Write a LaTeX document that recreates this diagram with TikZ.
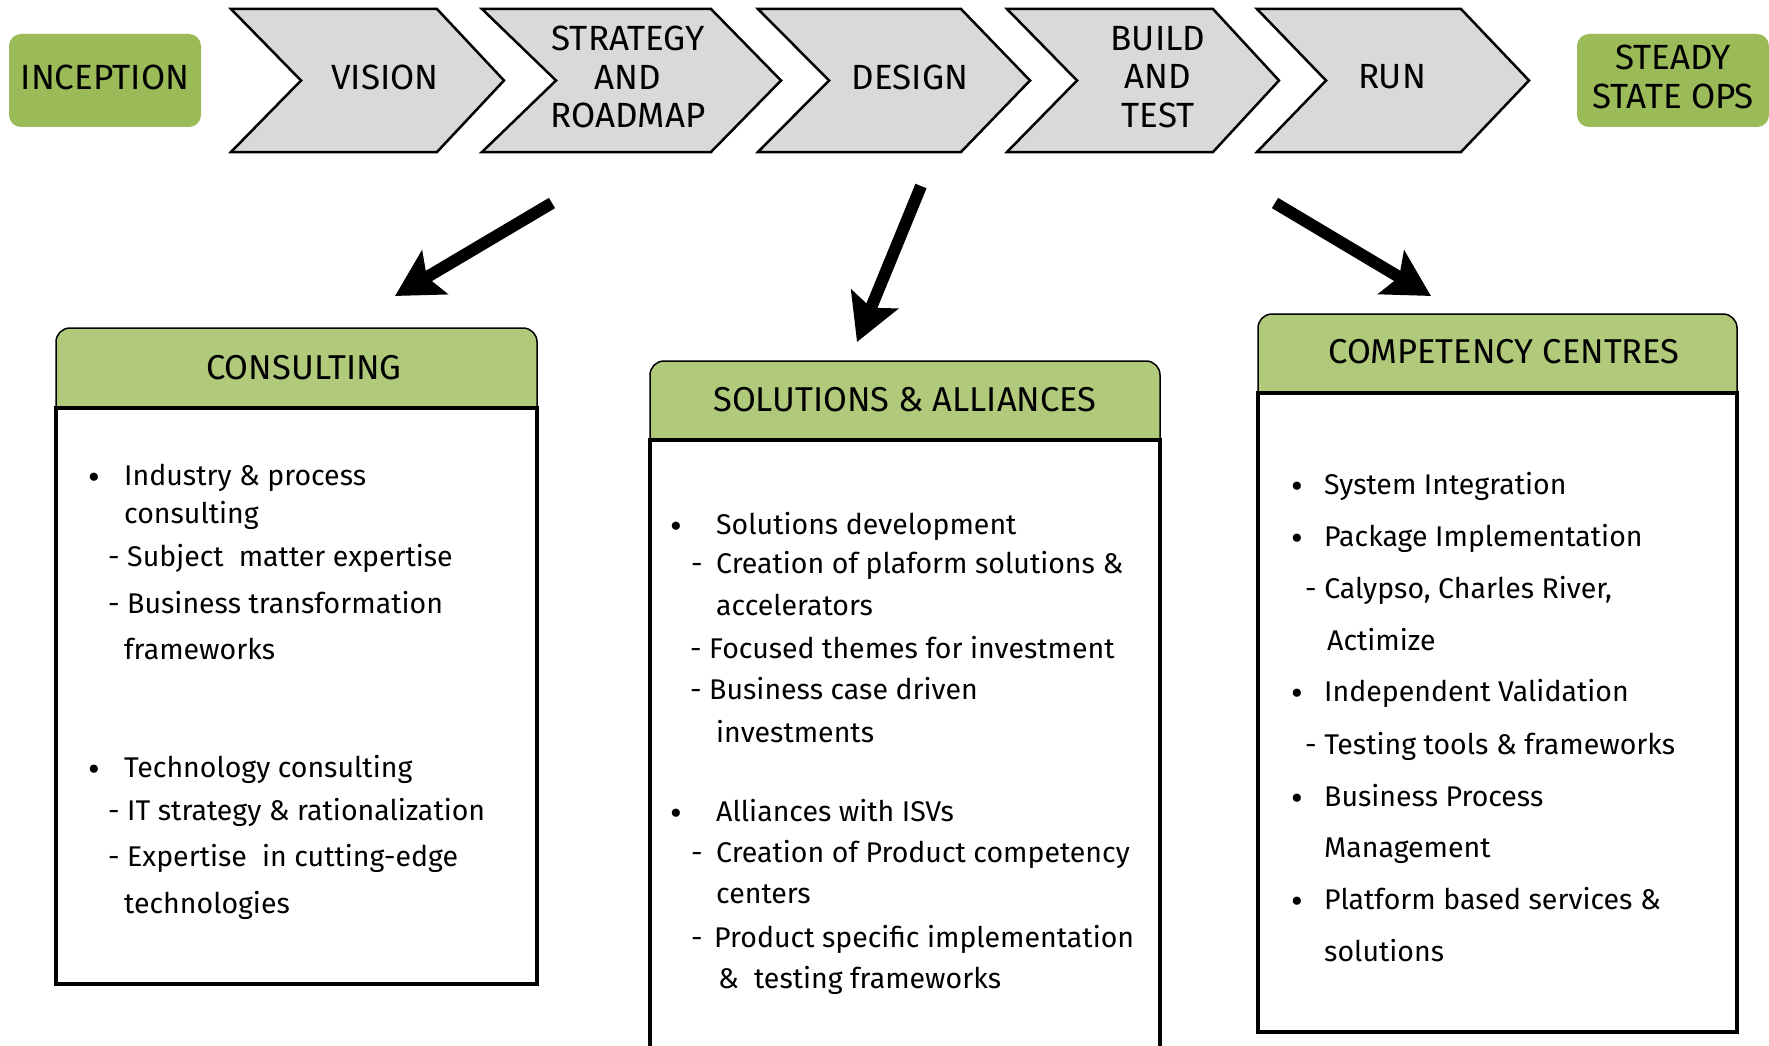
\documentclass[tikz,border=0pt]{standalone}
\usepackage{fontspec}
\setmainfont{Fira Sans}
\usetikzlibrary{arrows.meta}
\definecolor{startgreen}{RGB}{155,187,89}
\definecolor{hdrgreen}{RGB}{176,201,123}
\definecolor{chevgray}{RGB}{217,217,217}
\newcommand{\chevron}[4]{% left, topright, tip, notch
  \draw[chev] (#1,9) -- (#2,9) -- (#3,80.5) -- (#2,152) -- (#1,152) -- (#4,80.5) -- cycle;}
\begin{document}
\begin{tikzpicture}[x=1pt,y=-1pt,
  chev/.style={fill=chevgray,draw=black,line width=2.5pt,line join=miter},
  toplbl/.style={font=\fontsize{35}{38.5}\selectfont,align=center,inner sep=0pt},
  endbox/.style={fill=startgreen,rounded corners=12pt,minimum width=192pt,minimum height=93pt,
    inner sep=0pt},
  hdrfill/.style={fill=hdrgreen,draw=black,line width=1.5pt,rounded corners=14pt},
  bodybox/.style={draw=black,line width=3.2pt},
  hdrtxt/.style={font=\fontsize{34.5}{38}\selectfont,inner sep=0pt},
  bodytxt/.style={font=\fontsize{28.5}{32}\selectfont,anchor=mid west,inner sep=0pt,yshift=-7pt},
  bul/.style={font=\fontsize{36}{36}\selectfont,anchor=mid,inner sep=0pt,yshift=-11pt},
  bigarrow/.style={line width=12pt,-{Stealth[length=46pt,width=50pt,inset=9pt]}}
]
\useasboundingbox (0,0) rectangle (1769,1046);

% ---------- top row ----------
\node[endbox] (inceptionbox) at (105,80.5) {};
\node[toplbl] (inception) at (105,77) {INCEPTION};
\node[endbox] (steadybox) at (1673,80.5) {};
\node[toplbl] (steady) at (1673,77) {STEADY\\STATE OPS};

\chevron{231}{437}{504}{301}
\chevron{482}{711}{781}{556}
\chevron{758}{961}{1030}{829}
\chevron{1007}{1213}{1279}{1077}
\chevron{1257}{1461}{1529}{1326}

\node[toplbl] (vision) at (385,77) {VISION};
\node[toplbl] (strategy) at (628,77) {STRATEGY\\AND\\ROADMAP};
\node[toplbl] (design) at (910,77) {DESIGN};
\node[toplbl] (build) at (1158,77) {BUILD\\AND\\TEST};
\node[toplbl] (run) at (1392,77) {RUN};

% ---------- arrows ----------
\coordinate (a1s) at (552,203);
\coordinate (a1e) at (395,296);
\coordinate (a2s) at (921,186);
\coordinate (a2e) at (857,342);
\coordinate (a3s) at (1275,203);
\coordinate (a3e) at (1431,296);
\draw[bigarrow] (a1s) -- (a1e);
\draw[bigarrow] (a2s) -- (a2e);
\draw[bigarrow] (a3s) -- (a3e);

% ---------- consulting ----------
\filldraw[hdrfill] (56,408) -- (56,328) -- (537,328) -- (537,408);
\draw[bodybox] (56,408) rectangle (537,984);
\node[hdrtxt] (conshdr) at (304,368) {CONSULTING};

\node[bul] (cb1) at (94,476) {•};
\node[bodytxt] (c1) at (124,476) {Industry \& process};
\node[bodytxt] (c2) at (124,514) {consulting};
\node[bodytxt] (c3) at (108,557) {- Subject\ \ matter expertise};
\node[bodytxt] (c4) at (108,604) {- Business transformation};
\node[bodytxt] (c5) at (124,650) {frameworks};
\node[bul] (cb2) at (94,768) {•};
\node[bodytxt] (c6) at (124,768) {Technology consulting};
\node[bodytxt] (c7) at (108,811) {- IT strategy \& rationalization};
\node[bodytxt] (c8) at (108,857) {- Expertise\ \ in cutting-edge};
\node[bodytxt] (c9) at (124,904) {technologies};

% ---------- solutions ----------
\filldraw[hdrfill] (650,440) -- (650,361) -- (1160,361) -- (1160,440);
\draw[bodybox] (650,1050) -- (650,440) -- (1160,440) -- (1160,1050);
\node[hdrtxt] (solhdr) at (905,400) {SOLUTIONS \& ALLIANCES};

\node[bul] (sb1) at (676,525) {•};
\node[bodytxt] (s1) at (716,525) {Solutions development};
\node[bodytxt] (sd2) at (691,564) {-};
\node[bodytxt] (s2) at (716,564) {Creation of plaform solutions \&};
\node[bodytxt] (s3) at (716,606) {accelerators};
\node[bodytxt] (s4) at (690,649) {- Focused themes for investment};
\node[bodytxt] (s5) at (690,690) {- Business case driven};
\node[bodytxt] (s6) at (716,733) {investments};
\node[bul] (sb2) at (676,812) {•};
\node[bodytxt] (s7) at (716,812) {Alliances with ISVs};
\node[bodytxt] (sd8) at (691,853) {-};
\node[bodytxt] (s8) at (716,853) {Creation of Product competency};
\node[bodytxt] (s9) at (716,894) {centers};
\node[bodytxt] (sd10) at (691,938) {-};
\node[bodytxt] (s10) at (714,938) {Product specific implementation};
\node[bodytxt] (s11) at (718,979) {\&\ \ testing frameworks};

% ---------- competency ----------
\filldraw[hdrfill] (1258,393) -- (1258,314) -- (1737,314) -- (1737,393);
\draw[bodybox] (1258,393) rectangle (1737,1032);
\node[hdrtxt] (comphdr) at (1504,352) {COMPETENCY CENTRES};

\node[bul] (pb1) at (1297,485) {•};
\node[bodytxt] (p1) at (1324,485) {System Integration};
\node[bul] (pb2) at (1297,537) {•};
\node[bodytxt] (p2) at (1324,537) {Package Implementation};
\node[bodytxt] (p3) at (1305,589) {- Calypso, Charles River,};
\node[bodytxt] (p4) at (1327,641) {Actimize};
\node[bul] (pb3) at (1297,692) {•};
\node[bodytxt] (p5) at (1324,692) {Independent Validation};
\node[bodytxt] (p6) at (1305,745) {- Testing tools \& frameworks};
\node[bul] (pb4) at (1297,797) {•};
\node[bodytxt] (p7) at (1324,797) {Business Process};
\node[bodytxt] (p8) at (1324,848) {Management};
\node[bul] (pb5) at (1297,900) {•};
\node[bodytxt] (p9) at (1324,900) {Platform based services \&};
\node[bodytxt] (p10) at (1324,952) {solutions};
\end{tikzpicture}
\end{document}
